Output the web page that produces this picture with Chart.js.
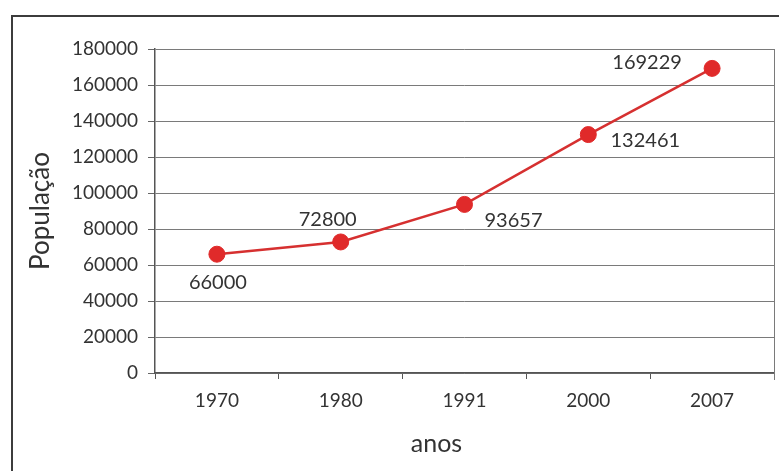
<!DOCTYPE html>
<html>
<head>
<meta charset="utf-8">
<script src="https://cdn.jsdelivr.net/npm/chart.js@4/dist/chart.umd.min.js"></script>
<style>
  html, body { margin: 0; padding: 0; background: #fff; overflow: hidden; }
  #frame {
    position: absolute; left: 11px; top: 15px; width: 820px; height: 520px;
    border-left: 2px solid #3c3c3c; border-top: 2px solid #3c3c3c;
  }
  #wrap { position: absolute; left: 0; top: 0; width: 779px; height: 471px; }
</style>
</head>
<body>
<div id="frame"></div>
<div id="wrap"><canvas id="c" width="779" height="471"></canvas></div>
<script>
// Population by census year
const anos = ['1970', '1980', '1991', '2000', '2007'];
const populacao = [66000, 72800, 93657, 132461, 169229];
const yTicks = [0, 20000, 40000, 60000, 80000, 100000, 120000, 140000, 160000, 180000];

const FONT = 'Lato, "DejaVu Sans", sans-serif';
const TEXT = '#333333';

// where each value label sits relative to its point (dx, dy in px)
const labelOffsets = [[1, 28], [-13, -22], [49, 16], [57, 6], [-65, -6]];

const valueLabels = {
  id: 'valueLabels',
  afterDatasetsDraw(chart) {
    const ctx = chart.ctx;
    const meta = chart.getDatasetMeta(0);
    ctx.save();
    ctx.font = '20px ' + FONT;
    ctx.fillStyle = TEXT;
    ctx.textAlign = 'center';
    ctx.textBaseline = 'middle';
    meta.data.forEach((pt, i) => {
      const [dx, dy] = labelOffsets[i];
      ctx.fillText(String(populacao[i]), pt.x + dx, pt.y + dy);
    });
    ctx.restore();
  }
};

// right edge of the plot box plus the axis titles
const frameAndTitles = {
  id: 'frameAndTitles',
  beforeDatasetsDraw(chart) {
    const { ctx, chartArea } = chart;
    ctx.save();
    ctx.strokeStyle = '#7a7a7a';
    ctx.lineWidth = 1;
    ctx.beginPath();
    ctx.moveTo(Math.round(chartArea.right) + 0.5, chartArea.top);
    ctx.lineTo(Math.round(chartArea.right) + 0.5, chartArea.bottom + 7);
    ctx.stroke();
    ctx.restore();
  },
  afterDraw(chart) {
    const { ctx, chartArea } = chart;
    ctx.save();
    ctx.font = '25px ' + FONT;
    ctx.fillStyle = TEXT;
    ctx.textAlign = 'center';
    ctx.textBaseline = 'alphabetic';
    ctx.fillText('anos', (chartArea.left + chartArea.right) / 2 - 28, chartArea.bottom + 79);
    ctx.font = '26px ' + FONT;
    ctx.translate(49, (chartArea.top + chartArea.bottom) / 2);
    ctx.rotate(-Math.PI / 2);
    ctx.fillText('População', 0, 0);
    ctx.restore();
  }
};

new Chart(document.getElementById('c'), {
  type: 'line',
  data: {
    labels: anos,
    datasets: [{
      data: populacao,
      borderColor: '#d63030',
      borderWidth: 2.5,
      backgroundColor: '#e02a2a',
      pointBackgroundColor: '#e02a2a',
      pointBorderColor: '#e02a2a',
      pointRadius: 8,
      pointBorderWidth: 1,
      tension: 0,
      fill: false
    }]
  },
  options: {
    responsive: false,
    animation: false,
    devicePixelRatio: 1,
    layout: { autoPadding: false, padding: { left: 0, top: 49, right: 5, bottom: 0 } },
    plugins: { legend: { display: false }, tooltip: { enabled: false } },
    scales: {
      x: {
        offset: true,
        grid: { offset: true, drawOnChartArea: false, drawTicks: true, tickLength: 6, color: '#555' },
        border: { color: '#555', width: 1.5 },
        ticks: { color: TEXT, font: { family: FONT, size: 19 }, padding: 10 },
        afterFit(scale) { scale.height = 98; }
      },
      y: {
        min: 0, max: 180000,
        afterBuildTicks(scale) { scale.ticks = yTicks.map(v => ({ value: v })); },
        grid: { color: '#7a7a7a', lineWidth: 1, tickLength: 7, tickColor: '#666' },
        border: { color: '#555', width: 1.5 },
        ticks: {
          color: TEXT, font: { family: FONT, size: 19 }, padding: 10,
          callback: (v) => String(v)
        },
        afterFit(scale) { scale.width = 155; }
      }
    }
  },
  plugins: [valueLabels, frameAndTitles]
});
</script>
</body>
</html>
